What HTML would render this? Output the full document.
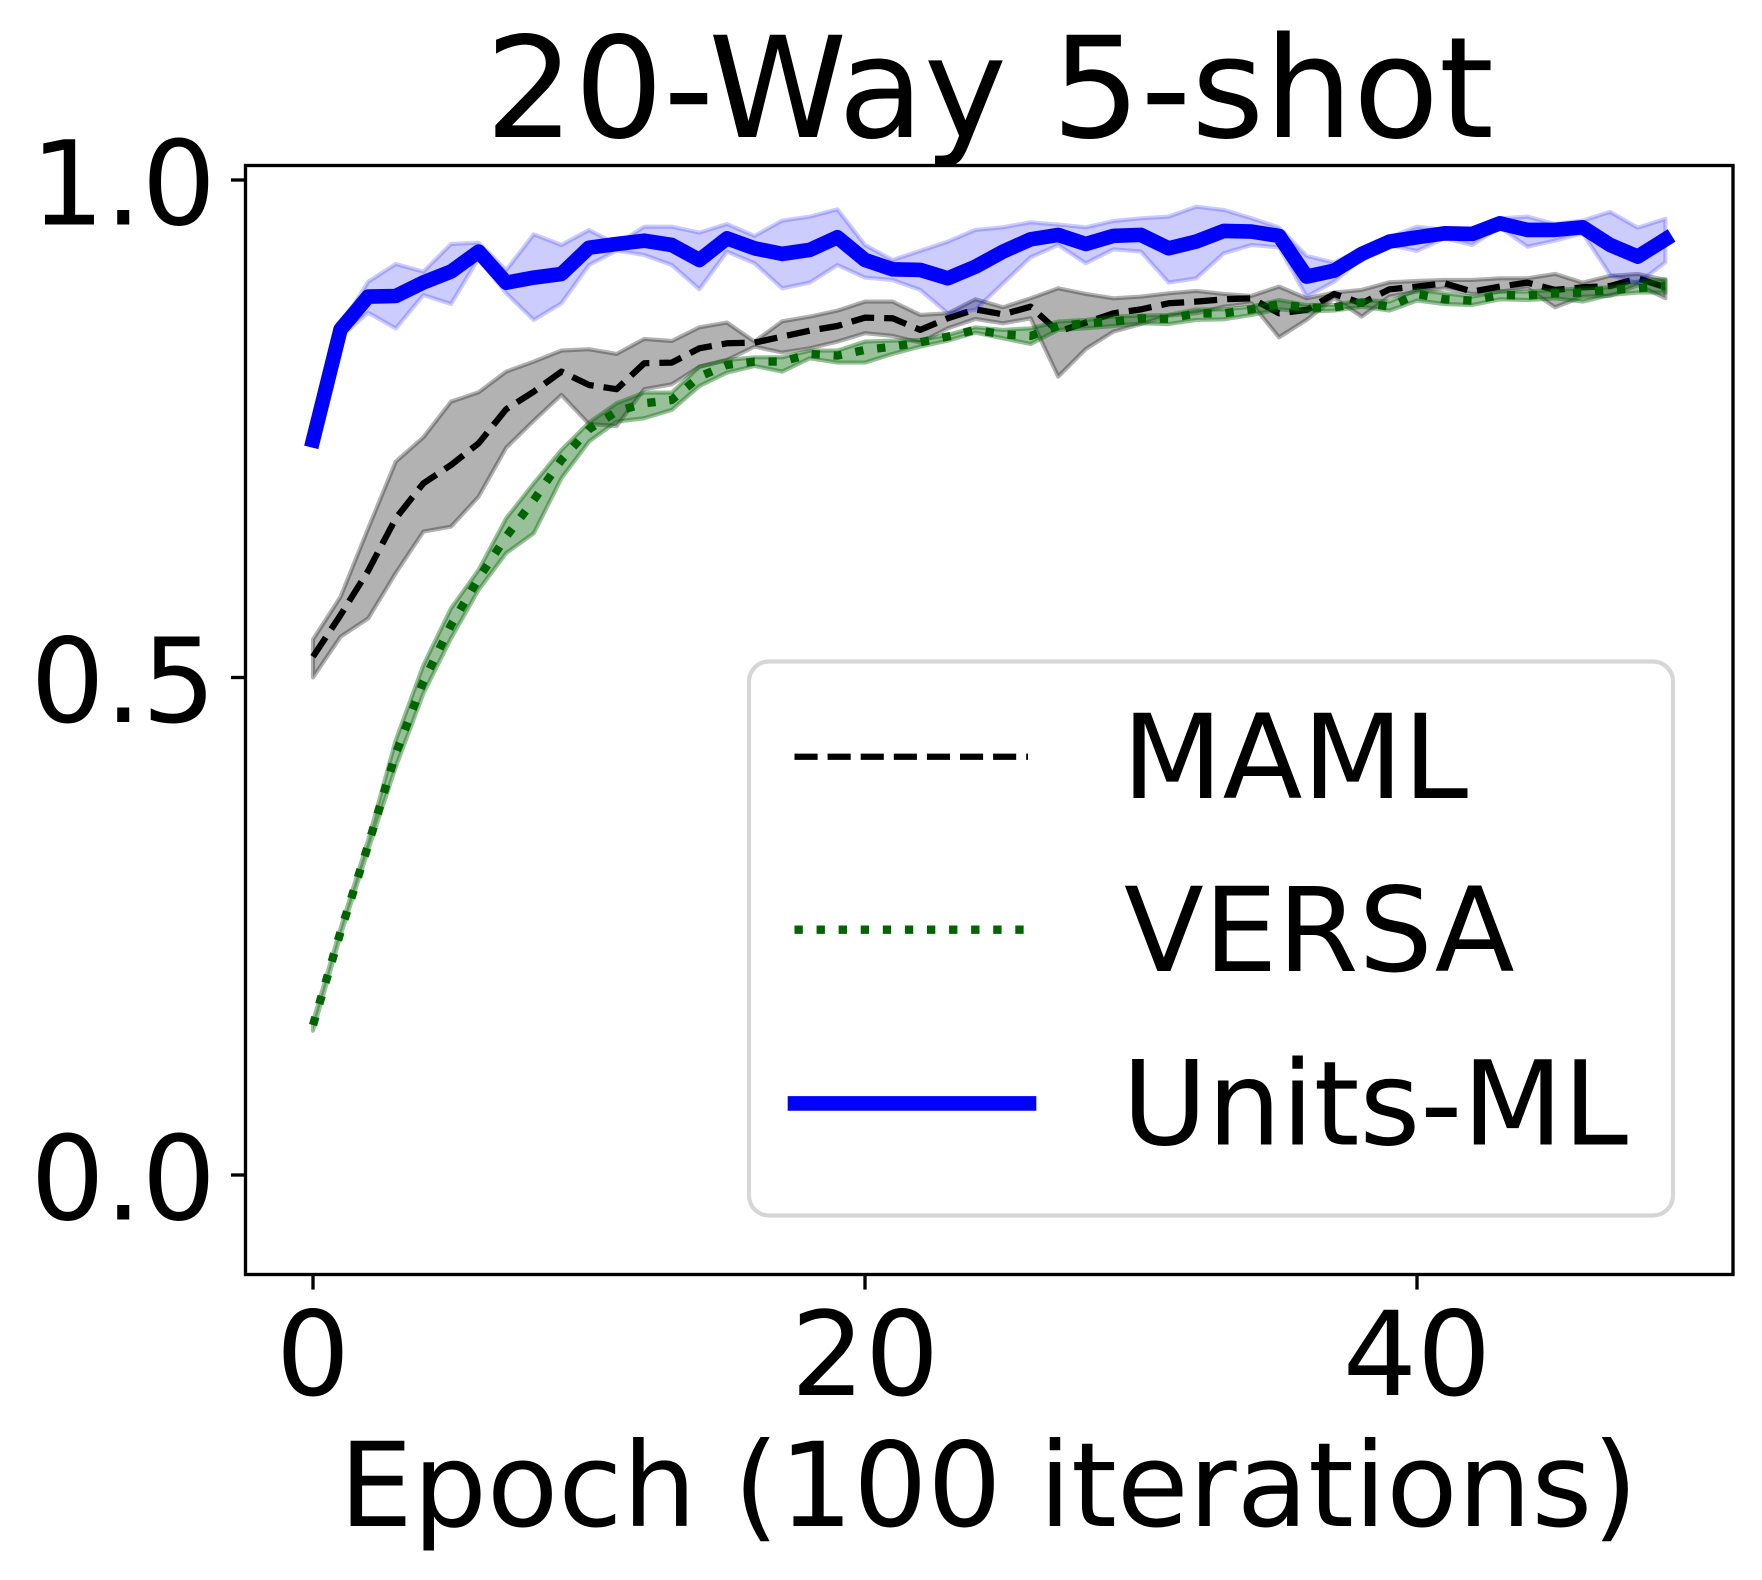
<!DOCTYPE html>
<html lang="en">
<head>
<meta charset="utf-8">
<title>20-Way 5-shot</title>
<style>
html,body{margin:0;padding:0;background:#fff;width:1762px;height:1580px;overflow:hidden}
svg{display:block}
text{font-family:"DejaVu Sans","Liberation Sans",sans-serif;fill:#000}
</style>
</head>
<body>
<svg id="chart" xmlns="http://www.w3.org/2000/svg" width="1762" height="1580" viewBox="0 0 1762 1580">
  <rect x="0" y="0" width="1762" height="1580" fill="#fff"/>
  <g id="series-layer"></g>
  <g id="ticks-layer"></g>
  <rect x="245.5" y="165.5" width="1487.5" height="1109" fill="none" stroke="#000" stroke-width="3.33"/>
  <text x="989.5" y="137" font-size="140.2" text-anchor="middle">20-Way 5-shot</text>
  <text x="988.5" y="1526" font-size="116.67" text-anchor="middle">Epoch (100 iterations)</text>
  <g>
    <rect x="749" y="661.5" width="924" height="554" rx="20" ry="20" fill="#fff" fill-opacity="0.8" stroke="#d6d6d6" stroke-width="4.17"/>
    <line x1="794.5" y1="756.7" x2="1028" y2="756.7" stroke="#000" stroke-width="6.25" stroke-dasharray="23.1 10"/>
    <text x="1122" y="798" font-size="116.67">MAML</text>
    <line x1="794.5" y1="929.7" x2="1028" y2="929.7" stroke="#006400" stroke-width="8.33" stroke-dasharray="8.33 13.75"/>
    <text x="1124" y="971" font-size="116.67">VERSA</text>
    <line x1="795" y1="1103.4" x2="1029" y2="1103.4" stroke="#0000ff" stroke-width="14.58" stroke-linecap="square"/>
    <text x="1122" y="1144.5" font-size="116.67">Units-ML</text>
  </g>
</svg>
<script>
const xTicks = [0, 20, 40];
const xTickLabels = ["0", "20", "40"];
const yTicks = [0, 0.5, 1];
const yTickLabels = ["0.0", "0.5", "1.0"];

const mamlMean = [.5209,.5628,.6073,.66,.6952,.7136,.7354,.7696,.7873,.8074,.794,.7897,.8158,.8165,.8309,.8359,.8366,.8426,.8486,.8533,.8617,.861,.8493,.861,.87,.865,.8727,.8476,.8567,.866,.87,.8761,.8778,.8801,.8811,.866,.8694,.8855,.8761,.8902,.8929,.8962,.8878,.8929,.8969,.8895,.8922,.8935,.9012,.8922];
const mamlHigh = [.5383,.5812,.650,.717,.7414,.7773,.7866,.8074,.8175,.8285,.8299,.8252,.8403,.8382,.852,.8567,.8376,.858,.8627,.8687,.8778,.8778,.8644,.866,.8801,.8721,.8811,.8912,.8855,.8811,.8828,.8861,.8885,.8855,.8835,.8929,.8811,.8868,.8895,.8972,.8985,.8996,.8996,.9012,.9012,.9056,.8969,.9036,.9056,.8996];
const mamlLow = [.5001,.541,.5594,.605,.6466,.6516,.6818,.731,.7582,.784,.7548,.7528,.7897,.7947,.8124,.8191,.8326,.8265,.8309,.8376,.846,.8433,.8366,.851,.8604,.856,.861,.8024,.8302,.8476,.8553,.8637,.866,.8727,.8761,.8419,.8594,.8811,.8627,.8828,.8878,.8912,.8855,.8878,.8912,.8721,.8828,.8835,.8945,.8811];

const versaMean = [.1507,.2445,.3316,.4237,.4958,.5527,.5996,.6416,.6784,.7186,.7495,.7672,.7756,.7789,.8024,.8141,.8175,.8175,.8252,.8235,.8292,.8326,.8369,.8426,.8493,.8449,.8433,.8533,.856,.8577,.861,.8604,.866,.866,.87,.8754,.8717,.872,.8768,.8727,.8855,.8801,.8788,.8845,.8838,.8861,.8868,.8895,.8912,.8935];
const versaHigh = [.1541,.2479,.3367,.4371,.5125,.5695,.608,.66,.6952,.7287,.7562,.7756,.7863,.7863,.8124,.8191,.8218,.8218,.8285,.8285,.8376,.8386,.8392,.8443,.852,.8493,.851,.8577,.8594,.8627,.8637,.8644,.87,.87,.8727,.8794,.8744,.8744,.8794,.8778,.8895,.8861,.8828,.8878,.8878,.8895,.8912,.8922,.8979,.9002];
const versaLow = [.145,.2412,.3266,.4103,.484,.5393,.588,.625,.645,.7002,.7371,.7572,.7605,.7689,.793,.8064,.8131,.8074,.8208,.8165,.8165,.8252,.8326,.8386,.8466,.8409,.8352,.8493,.851,.8533,.856,.8553,.8594,.86,.8644,.87,.8677,.8687,.8727,.8687,.8788,.8754,.8744,.8801,.8794,.8811,.8778,.8845,.8868,.8868];

const unitsMean = [.7384,.8500,.8828,.8834,.8971,.9079,.928,.8968,.9019,.9055,.932,.9357,.939,.9347,.9196,.9414,.9314,.9257,.9297,.9424,.9196,.9103,.9096,.9012,.9129,.928,.9404,.9448,.9357,.9438,.9448,.9314,.9381,.9488,.9481,.9438,.9029,.9089,.9257,.9381,.9424,.9464,.9458,.9565,.9498,.9498,.9525,.9347,.923,.9404];
const unitsHigh = [.7404,.853,.8978,.9156,.9079,.9357,.937,.9095,.9454,.9347,.9497,.9354,.9531,.9531,.9471,.9558,.9438,.9592,.9632,.9706,.9347,.9196,.9287,.9381,.9498,.9525,.9575,.9552,.9525,.9588,.9615,.9632,.9732,.9699,.9615,.9525,.9237,.917,.9304,.9424,.9531,.9498,.9515,.9615,.9632,.9558,.9592,.9679,.9521,.9609];
const unitsLow = [.736,.8425,.8666,.8509,.8844,.8754,.9213,.8861,.8593,.8761,.9146,.929,.9246,.9146,.8902,.928,.9163,.8912,.8969,.9146,.9019,.8995,.8895,.866,.8694,.8962,.9223,.9347,.9163,.9304,.928,.8969,.9012,.9263,.9347,.9324,.8828,.8979,.9213,.9347,.9287,.9414,.9347,.9525,.933,.9391,.9464,.9046,.8962,.9173];

const svgNS = 'http://www.w3.org/2000/svg';
const seriesLayer = document.getElementById('series-layer');
const ticksLayer = document.getElementById('ticks-layer');

function xScale(v) { return 313 + 27.6 * v; }
function yScale(v) { return 1175 - 995 * v; }
function pointString(values) {
  return values.map(function (v, i) { return xScale(i).toFixed(1) + ',' + yScale(v).toFixed(1); });
}

function drawBand(low, high, color, opacity, name) {
  const band = document.createElementNS(svgNS, 'polygon');
  
  
  band.setAttribute('points', pointString(high).concat(pointString(low).reverse()).join(' '));
  band.setAttribute('fill', color);
  band.setAttribute('fill-opacity', opacity);
  band.setAttribute('stroke', color);
  band.setAttribute('stroke-opacity', opacity);
  band.setAttribute('stroke-width', '4.17');
  band.setAttribute('stroke-linejoin', 'round');
  seriesLayer.appendChild(band);
}

function drawLine(values, color, width, dash, cap, name) {
  const line = document.createElementNS(svgNS, 'polyline');
  
  
  line.setAttribute('points', pointString(values).join(' '));
  line.setAttribute('fill', 'none');
  line.setAttribute('stroke', color);
  line.setAttribute('stroke-width', width);
  line.setAttribute('stroke-linejoin', 'round');
  line.setAttribute('stroke-linecap', cap);
  if (dash) line.setAttribute('stroke-dasharray', dash);
  seriesLayer.appendChild(line);
}

drawBand(mamlLow, mamlHigh, '#000000', 0.3, 'maml-band');
drawLine(mamlMean, '#000000', 6.25, '23.1 10', 'butt', 'maml-line');
drawBand(versaLow, versaHigh, '#006400', 0.4, 'versa-band');
drawLine(versaMean, '#006400', 8.33, '8.33 13.75', 'butt', 'versa-line');
drawBand(unitsLow, unitsHigh, '#0000ff', 0.2, 'units-ml-band');
drawLine(unitsMean, '#0000ff', 14.58, '', 'square', 'units-ml-line');

xTicks.forEach(function (t, i) {
  const mark = document.createElementNS(svgNS, 'line');
  
  
  mark.setAttribute('x1', xScale(t));
  mark.setAttribute('x2', xScale(t));
  mark.setAttribute('y1', 1275);
  mark.setAttribute('y2', 1289.6);
  mark.setAttribute('stroke', '#000');
  mark.setAttribute('stroke-width', '3.33');
  ticksLayer.appendChild(mark);
  const label = document.createElementNS(svgNS, 'text');
  
  
  label.setAttribute('x', xScale(t));
  label.setAttribute('y', 1395);
  label.setAttribute('font-size', '116.67');
  label.setAttribute('text-anchor', 'middle');
  label.textContent = xTickLabels[i];
  ticksLayer.appendChild(label);
});

yTicks.forEach(function (t, i) {
  const mark = document.createElementNS(svgNS, 'line');
  
  
  mark.setAttribute('x1', 231);
  mark.setAttribute('x2', 245.5);
  mark.setAttribute('y1', yScale(t));
  mark.setAttribute('y2', yScale(t));
  mark.setAttribute('stroke', '#000');
  mark.setAttribute('stroke-width', '3.33');
  ticksLayer.appendChild(mark);
  const label = document.createElementNS(svgNS, 'text');
  
  
  label.setAttribute('x', 216);
  label.setAttribute('y', yScale(t) + 44.5);
  label.setAttribute('font-size', '116.67');
  label.setAttribute('text-anchor', 'end');
  label.textContent = yTickLabels[i];
  ticksLayer.appendChild(label);
});
</script>
</body>
</html>
